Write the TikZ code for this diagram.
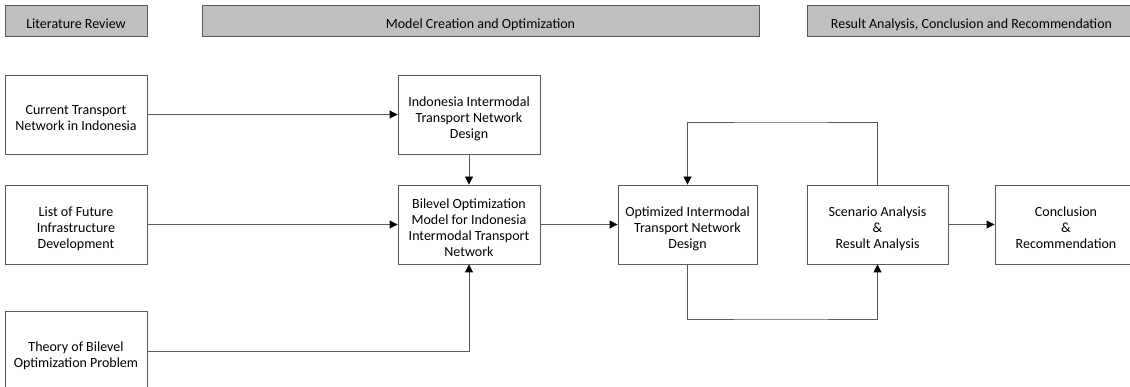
\documentclass[tikz,border=0pt]{standalone}
\usepackage{fontspec}
\setmainfont{Carlito}
\usetikzlibrary{arrows.meta}
\definecolor{linegray}{HTML}{595959}
\definecolor{headgray}{HTML}{BFBFBF}
\newcommand{\boxtext}[1]{\raisebox{-5pt}[\height][\depth]{\begin{tabular}{@{}c@{}}#1\end{tabular}}}
\begin{document}
\begin{tikzpicture}[x=1pt,y=-1pt,
  font=\fontsize{14}{15.8}\selectfont,
  box/.style={draw=linegray,line width=0.9pt,fill=white,minimum width=142pt,minimum height=79pt,inner sep=2pt},
  phase/.style={draw=linegray,line width=0.9pt,fill=headgray,minimum height=31pt,inner sep=0pt},
  flow/.style={draw=linegray,line width=0.9pt,-{Triangle[length=8pt,width=8pt,fill=black,color=black]}}]
\clip (0,0) rectangle (1130,387);
\fill[white] (0,0) rectangle (1130,387);

% phases
\node[phase,minimum width=142pt] (litreview) at (76,20.5) {\boxtext{Literature Review}};
\node[phase,minimum width=557pt] (modelphase) at (480.5,20.5) {\boxtext{Model Creation and Optimization}};
\node[phase,minimum width=329pt] (resultphase) at (971.5,20.5) {\boxtext{Result Analysis, Conclusion and Recommendation}};

% steps
\node[box] (current) at (76,114.5) {\boxtext{Current Transport\\Network in Indonesia}};
\node[box] (future) at (76,224.5) {\boxtext{List of Future\\Infrastructure\\Development}};
\node[box,minimum height=80pt] (theory) at (76,351) {\boxtext{Theory of Bilevel\\Optimization Problem}};
\node[box] (design) at (469,114.5) {\boxtext{Indonesia Intermodal\\Transport Network\\Design}};
\node[box] (bilevel) at (469,224.5) {\boxtext{Bilevel Optimization\\Model for Indonesia\\Intermodal Transport\\Network}};
\node[box,minimum width=139pt] (optimized) at (687.5,224.5) {\boxtext{Optimized Intermodal\\Transport Network\\Design}};
\node[box,minimum width=141pt] (scenario) at (877.5,224.5) {\boxtext{Scenario Analysis\\\&\\Result Analysis}};
\node[box] (conclusion) at (1066,224.5) {\boxtext{Conclusion\\\&\\Recommendation}};

\coordinate (looptop) at (780,122);
\coordinate (loopbot) at (780,319);

\draw[flow] (current) -- (design);
\draw[flow] (future) -- (bilevel);
\draw[flow] (design) -- (bilevel);
\draw[flow] (theory.east) -| (bilevel.south);
\draw[flow] (bilevel) -- (optimized);
\draw[flow] (scenario) -- (conclusion);
\draw[flow] (scenario.north) |- (looptop) -| (optimized.north);
\draw[flow] (optimized.south) |- (loopbot) -| (scenario.south);

\end{tikzpicture}
\end{document}
